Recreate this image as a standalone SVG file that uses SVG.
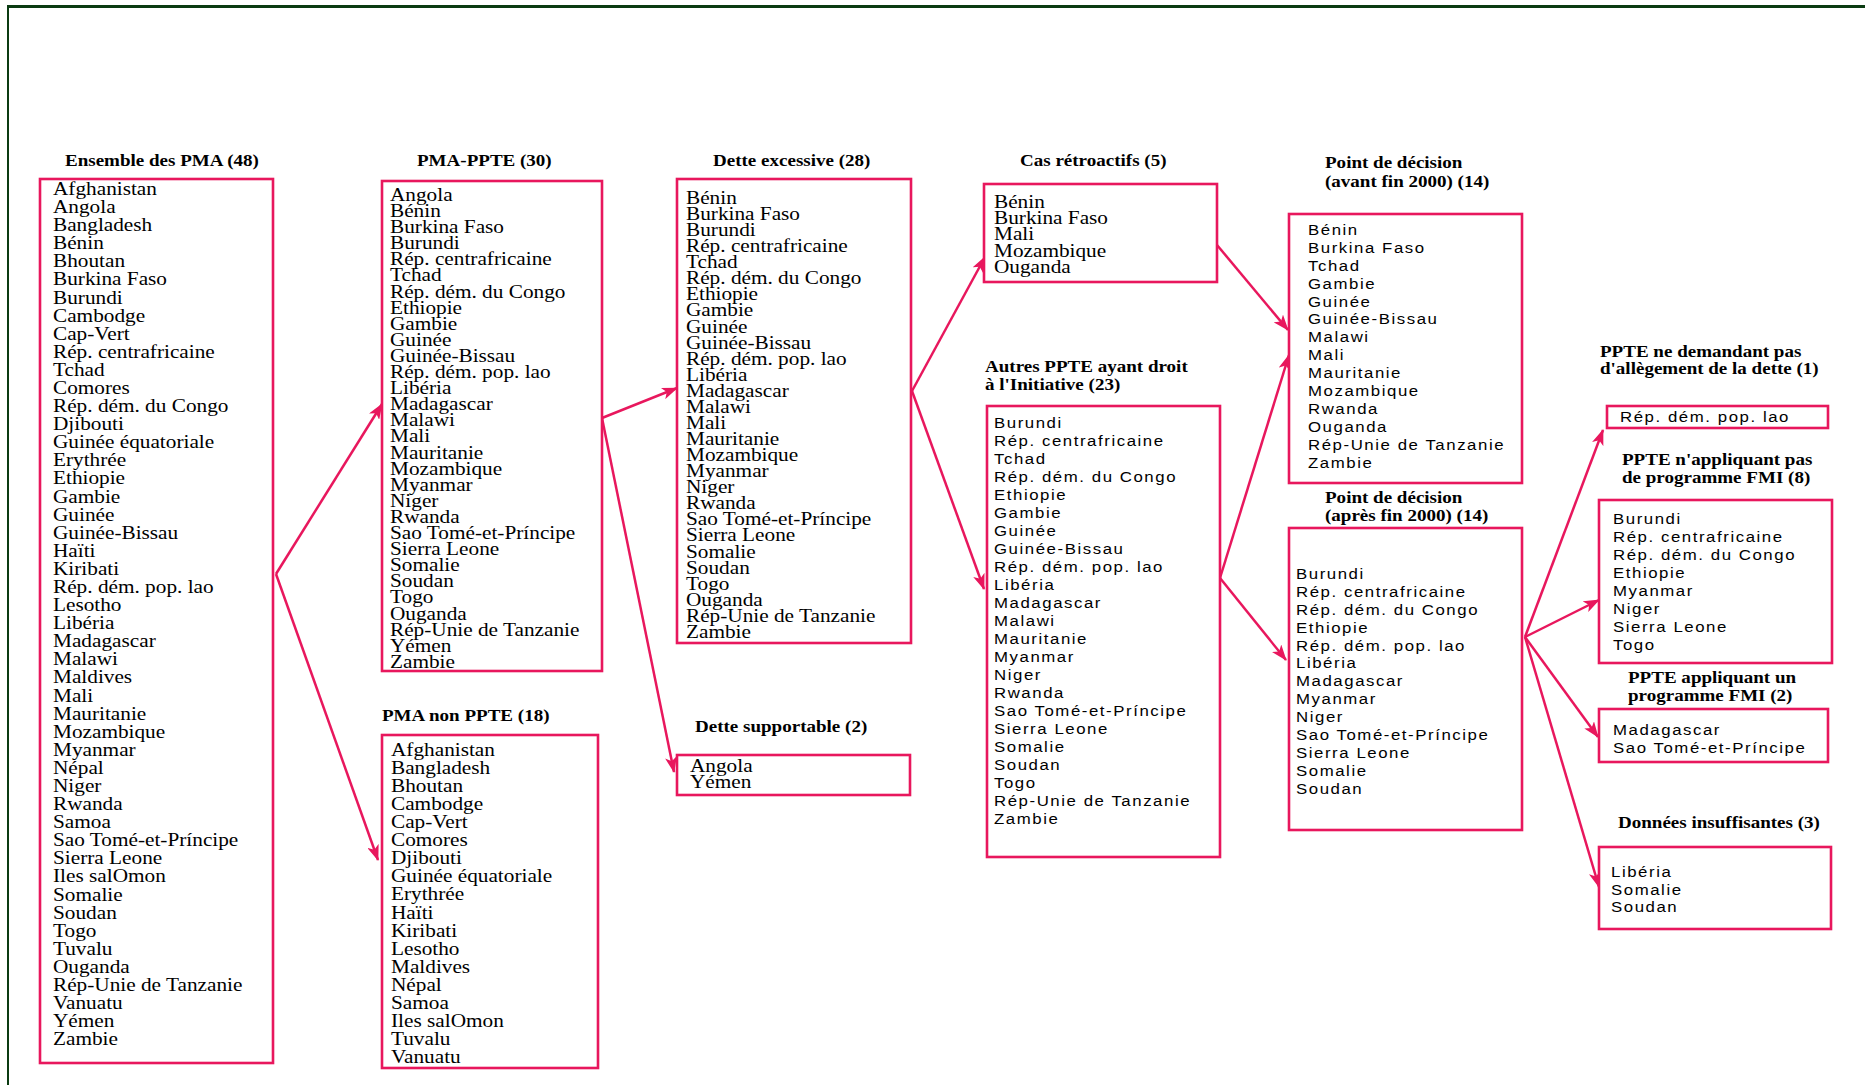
<svg xmlns="http://www.w3.org/2000/svg" width="1865" height="1085" viewBox="0 0 1865 1085">
<defs>
<style>
.box{fill:#fff;stroke:#E8175D;stroke-width:2.6}
.ttl{font-family:"Liberation Serif","Times New Roman",serif;font-weight:bold;font-size:17px;fill:#000}
.ser{font-family:"Liberation Serif","Times New Roman",serif;font-size:19px;fill:#000}
.san{font-family:"Liberation Sans",Arial,sans-serif;font-size:15px;letter-spacing:1.4px;fill:#000}
.con{stroke:#E8175D;stroke-width:2.5;fill:none;marker-end:url(#ah)}
</style>
<marker id="ah" markerUnits="userSpaceOnUse" markerWidth="16" markerHeight="12" refX="15" refY="6" orient="auto">
<path d="M0,0 L16,6 L0,12 L4,6 z" fill="#E8175D"/>
</marker>
</defs>
<rect x="0" y="0" width="1865" height="1085" fill="#fff"/>
<line x1="7" y1="6.5" x2="1865" y2="6.5" stroke="#0B3B12" stroke-width="3"/>
<line x1="8" y1="5" x2="8" y2="1085" stroke="#0B3B12" stroke-width="2"/>

<g id="connectors">
<line class="con" x1="276" y1="574" x2="382" y2="404"/>
<line class="con" x1="276" y1="574" x2="378" y2="860"/>
<line class="con" x1="602" y1="418" x2="677" y2="388"/>
<line class="con" x1="602" y1="418" x2="674" y2="772"/>
<line class="con" x1="912" y1="391" x2="985" y2="257"/>
<line class="con" x1="912" y1="391" x2="984" y2="589"/>
<line class="con" x1="1217" y1="245" x2="1288" y2="330"/>
<line class="con" x1="1220" y1="578" x2="1289" y2="355"/>
<line class="con" x1="1220" y1="578" x2="1286" y2="660"/>
<line class="con" x1="1525" y1="637" x2="1603" y2="430"/>
<line class="con" x1="1525" y1="637" x2="1599" y2="600"/>
<line class="con" x1="1525" y1="637" x2="1598" y2="737"/>
<line class="con" x1="1525" y1="637" x2="1599" y2="887"/>
</g>

<g id="n-ensemble-pma">
<rect class="box" x="40" y="179" width="233" height="884"/>
<text class="ttl" transform="translate(65,166) scale(1.12,1)">Ensemble des PMA (48)</text>
<text class="ser" transform="translate(53,195) scale(1.12,1)"><tspan x="0" y="0">Afghanistan</tspan><tspan x="0" dy="18.09">Angola</tspan><tspan x="0" dy="18.09">Bangladesh</tspan><tspan x="0" dy="18.09">Bénin</tspan><tspan x="0" dy="18.09">Bhoutan</tspan><tspan x="0" dy="18.09">Burkina Faso</tspan><tspan x="0" dy="18.09">Burundi</tspan><tspan x="0" dy="18.09">Cambodge</tspan><tspan x="0" dy="18.09">Cap-Vert</tspan><tspan x="0" dy="18.09">Rép. centrafricaine</tspan><tspan x="0" dy="18.09">Tchad</tspan><tspan x="0" dy="18.09">Comores</tspan><tspan x="0" dy="18.09">Rép. dém. du Congo</tspan><tspan x="0" dy="18.09">Djibouti</tspan><tspan x="0" dy="18.09">Guinée équatoriale</tspan><tspan x="0" dy="18.09">Erythrée</tspan><tspan x="0" dy="18.09">Ethiopie</tspan><tspan x="0" dy="18.09">Gambie</tspan><tspan x="0" dy="18.09">Guinée</tspan><tspan x="0" dy="18.09">Guinée-Bissau</tspan><tspan x="0" dy="18.09">Haïti</tspan><tspan x="0" dy="18.09">Kiribati</tspan><tspan x="0" dy="18.09">Rép. dém. pop. lao</tspan><tspan x="0" dy="18.09">Lesotho</tspan><tspan x="0" dy="18.09">Libéria</tspan><tspan x="0" dy="18.09">Madagascar</tspan><tspan x="0" dy="18.09">Malawi</tspan><tspan x="0" dy="18.09">Maldives</tspan><tspan x="0" dy="18.09">Mali</tspan><tspan x="0" dy="18.09">Mauritanie</tspan><tspan x="0" dy="18.09">Mozambique</tspan><tspan x="0" dy="18.09">Myanmar</tspan><tspan x="0" dy="18.09">Népal</tspan><tspan x="0" dy="18.09">Niger</tspan><tspan x="0" dy="18.09">Rwanda</tspan><tspan x="0" dy="18.09">Samoa</tspan><tspan x="0" dy="18.09">Sao Tomé-et-Príncipe</tspan><tspan x="0" dy="18.09">Sierra Leone</tspan><tspan x="0" dy="18.09">Iles salOmon</tspan><tspan x="0" dy="18.09">Somalie</tspan><tspan x="0" dy="18.09">Soudan</tspan><tspan x="0" dy="18.09">Togo</tspan><tspan x="0" dy="18.09">Tuvalu</tspan><tspan x="0" dy="18.09">Ouganda</tspan><tspan x="0" dy="18.09">Rép-Unie de Tanzanie</tspan><tspan x="0" dy="18.09">Vanuatu</tspan><tspan x="0" dy="18.09">Yémen</tspan><tspan x="0" dy="18.09">Zambie</tspan></text>
</g>

<g id="n-pma-ppte">
<rect class="box" x="382" y="181" width="220" height="490"/>
<text class="ttl" transform="translate(417,166) scale(1.12,1)">PMA-PPTE (30)</text>
<text class="ser" transform="translate(390,201) scale(1.12,1)"><tspan x="0" y="0">Angola</tspan><tspan x="0" dy="16.1">Bénin</tspan><tspan x="0" dy="16.1">Burkina Faso</tspan><tspan x="0" dy="16.1">Burundi</tspan><tspan x="0" dy="16.1">Rép. centrafricaine</tspan><tspan x="0" dy="16.1">Tchad</tspan><tspan x="0" dy="16.1">Rép. dém. du Congo</tspan><tspan x="0" dy="16.1">Ethiopie</tspan><tspan x="0" dy="16.1">Gambie</tspan><tspan x="0" dy="16.1">Guinée</tspan><tspan x="0" dy="16.1">Guinée-Bissau</tspan><tspan x="0" dy="16.1">Rép. dém. pop. lao</tspan><tspan x="0" dy="16.1">Libéria</tspan><tspan x="0" dy="16.1">Madagascar</tspan><tspan x="0" dy="16.1">Malawi</tspan><tspan x="0" dy="16.1">Mali</tspan><tspan x="0" dy="16.1">Mauritanie</tspan><tspan x="0" dy="16.1">Mozambique</tspan><tspan x="0" dy="16.1">Myanmar</tspan><tspan x="0" dy="16.1">Niger</tspan><tspan x="0" dy="16.1">Rwanda</tspan><tspan x="0" dy="16.1">Sao Tomé-et-Príncipe</tspan><tspan x="0" dy="16.1">Sierra Leone</tspan><tspan x="0" dy="16.1">Somalie</tspan><tspan x="0" dy="16.1">Soudan</tspan><tspan x="0" dy="16.1">Togo</tspan><tspan x="0" dy="16.1">Ouganda</tspan><tspan x="0" dy="16.1">Rép-Unie de Tanzanie</tspan><tspan x="0" dy="16.1">Yémen</tspan><tspan x="0" dy="16.1">Zambie</tspan></text>
</g>

<g id="n-pma-non-ppte">
<rect class="box" x="382" y="735" width="216" height="333"/>
<text class="ttl" transform="translate(382,721) scale(1.12,1)">PMA non PPTE (18)</text>
<text class="ser" transform="translate(391,756) scale(1.12,1)"><tspan x="0" y="0">Afghanistan</tspan><tspan x="0" dy="18.06">Bangladesh</tspan><tspan x="0" dy="18.06">Bhoutan</tspan><tspan x="0" dy="18.06">Cambodge</tspan><tspan x="0" dy="18.06">Cap-Vert</tspan><tspan x="0" dy="18.06">Comores</tspan><tspan x="0" dy="18.06">Djibouti</tspan><tspan x="0" dy="18.06">Guinée équatoriale</tspan><tspan x="0" dy="18.06">Erythrée</tspan><tspan x="0" dy="18.06">Haïti</tspan><tspan x="0" dy="18.06">Kiribati</tspan><tspan x="0" dy="18.06">Lesotho</tspan><tspan x="0" dy="18.06">Maldives</tspan><tspan x="0" dy="18.06">Népal</tspan><tspan x="0" dy="18.06">Samoa</tspan><tspan x="0" dy="18.06">Iles salOmon</tspan><tspan x="0" dy="18.06">Tuvalu</tspan><tspan x="0" dy="18.06">Vanuatu</tspan></text>
</g>

<g id="n-dette-excessive">
<rect class="box" x="677" y="179" width="234" height="464"/>
<text class="ttl" transform="translate(713,166) scale(1.12,1)">Dette excessive (28)</text>
<text class="ser" transform="translate(686,204) scale(1.12,1)"><tspan x="0" y="0">Bénin</tspan><tspan x="0" dy="16.07">Burkina Faso</tspan><tspan x="0" dy="16.07">Burundi</tspan><tspan x="0" dy="16.07">Rép. centrafricaine</tspan><tspan x="0" dy="16.07">Tchad</tspan><tspan x="0" dy="16.07">Rép. dém. du Congo</tspan><tspan x="0" dy="16.07">Ethiopie</tspan><tspan x="0" dy="16.07">Gambie</tspan><tspan x="0" dy="16.07">Guinée</tspan><tspan x="0" dy="16.07">Guinée-Bissau</tspan><tspan x="0" dy="16.07">Rép. dém. pop. lao</tspan><tspan x="0" dy="16.07">Libéria</tspan><tspan x="0" dy="16.07">Madagascar</tspan><tspan x="0" dy="16.07">Malawi</tspan><tspan x="0" dy="16.07">Mali</tspan><tspan x="0" dy="16.07">Mauritanie</tspan><tspan x="0" dy="16.07">Mozambique</tspan><tspan x="0" dy="16.07">Myanmar</tspan><tspan x="0" dy="16.07">Niger</tspan><tspan x="0" dy="16.07">Rwanda</tspan><tspan x="0" dy="16.07">Sao Tomé-et-Príncipe</tspan><tspan x="0" dy="16.07">Sierra Leone</tspan><tspan x="0" dy="16.07">Somalie</tspan><tspan x="0" dy="16.07">Soudan</tspan><tspan x="0" dy="16.07">Togo</tspan><tspan x="0" dy="16.07">Ouganda</tspan><tspan x="0" dy="16.07">Rép-Unie de Tanzanie</tspan><tspan x="0" dy="16.07">Zambie</tspan></text>
</g>

<g id="n-dette-supportable">
<rect class="box" x="677" y="755" width="233" height="40"/>
<text class="ttl" transform="translate(695,732) scale(1.12,1)">Dette supportable (2)</text>
<text class="ser" transform="translate(690,772) scale(1.12,1)"><tspan x="0" y="0">Angola</tspan><tspan x="0" dy="15.5">Yémen</tspan></text>
</g>

<g id="n-cas-retroactifs">
<rect class="box" x="984" y="184" width="233" height="98"/>
<text class="ttl" transform="translate(1020,166) scale(1.12,1)">Cas rétroactifs (5)</text>
<text class="ser" transform="translate(994,208) scale(1.12,1)"><tspan x="0" y="0">Bénin</tspan><tspan x="0" dy="16.25">Burkina Faso</tspan><tspan x="0" dy="16.25">Mali</tspan><tspan x="0" dy="16.25">Mozambique</tspan><tspan x="0" dy="16.25">Ouganda</tspan></text>
</g>

<g id="n-autres-ppte">
<rect class="box" x="987" y="406" width="233" height="451"/>
<text class="ttl" transform="translate(985,372) scale(1.12,1)"><tspan x="0" y="0">Autres PPTE ayant droit</tspan><tspan x="0" y="18">à l'Initiative (23)</tspan></text>
<text class="san" transform="translate(994,428) scale(1.12,1)"><tspan x="0" y="0">Burundi</tspan><tspan x="0" dy="18">Rép. centrafricaine</tspan><tspan x="0" dy="18">Tchad</tspan><tspan x="0" dy="18">Rép. dém. du Congo</tspan><tspan x="0" dy="18">Ethiopie</tspan><tspan x="0" dy="18">Gambie</tspan><tspan x="0" dy="18">Guinée</tspan><tspan x="0" dy="18">Guinée-Bissau</tspan><tspan x="0" dy="18">Rép. dém. pop. lao</tspan><tspan x="0" dy="18">Libéria</tspan><tspan x="0" dy="18">Madagascar</tspan><tspan x="0" dy="18">Malawi</tspan><tspan x="0" dy="18">Mauritanie</tspan><tspan x="0" dy="18">Myanmar</tspan><tspan x="0" dy="18">Niger</tspan><tspan x="0" dy="18">Rwanda</tspan><tspan x="0" dy="18">Sao Tomé-et-Príncipe</tspan><tspan x="0" dy="18">Sierra Leone</tspan><tspan x="0" dy="18">Somalie</tspan><tspan x="0" dy="18">Soudan</tspan><tspan x="0" dy="18">Togo</tspan><tspan x="0" dy="18">Rép-Unie de Tanzanie</tspan><tspan x="0" dy="18">Zambie</tspan></text>
</g>

<g id="n-decision-avant">
<rect class="box" x="1289" y="214" width="233" height="269"/>
<text class="ttl" transform="translate(1325,168) scale(1.12,1)"><tspan x="0" y="0">Point de décision</tspan><tspan x="0" y="19">(avant fin 2000) (14)</tspan></text>
<text class="san" transform="translate(1308,235) scale(1.12,1)"><tspan x="0" y="0">Bénin</tspan><tspan x="0" dy="17.9">Burkina Faso</tspan><tspan x="0" dy="17.9">Tchad</tspan><tspan x="0" dy="17.9">Gambie</tspan><tspan x="0" dy="17.9">Guinée</tspan><tspan x="0" dy="17.9">Guinée-Bissau</tspan><tspan x="0" dy="17.9">Malawi</tspan><tspan x="0" dy="17.9">Mali</tspan><tspan x="0" dy="17.9">Mauritanie</tspan><tspan x="0" dy="17.9">Mozambique</tspan><tspan x="0" dy="17.9">Rwanda</tspan><tspan x="0" dy="17.9">Ouganda</tspan><tspan x="0" dy="17.9">Rép-Unie de Tanzanie</tspan><tspan x="0" dy="17.9">Zambie</tspan></text>
</g>

<g id="n-decision-apres">
<rect class="box" x="1289" y="528" width="233" height="302"/>
<text class="ttl" transform="translate(1325,503) scale(1.12,1)"><tspan x="0" y="0">Point de décision</tspan><tspan x="0" y="18">(après fin 2000) (14)</tspan></text>
<text class="san" transform="translate(1296,579) scale(1.12,1)"><tspan x="0" y="0">Burundi</tspan><tspan x="0" dy="17.9">Rép. centrafricaine</tspan><tspan x="0" dy="17.9">Rép. dém. du Congo</tspan><tspan x="0" dy="17.9">Ethiopie</tspan><tspan x="0" dy="17.9">Rép. dém. pop. lao</tspan><tspan x="0" dy="17.9">Libéria</tspan><tspan x="0" dy="17.9">Madagascar</tspan><tspan x="0" dy="17.9">Myanmar</tspan><tspan x="0" dy="17.9">Niger</tspan><tspan x="0" dy="17.9">Sao Tomé-et-Príncipe</tspan><tspan x="0" dy="17.9">Sierra Leone</tspan><tspan x="0" dy="17.9">Somalie</tspan><tspan x="0" dy="17.9">Soudan</tspan></text>
</g>

<g id="n-ne-demandant-pas">
<rect class="box" x="1607" y="406" width="221" height="22"/>
<text class="ttl" transform="translate(1600,357) scale(1.12,1)"><tspan x="0" y="0">PPTE ne demandant pas</tspan><tspan x="0" y="17.5">d'allègement de la dette (1)</tspan></text>
<text class="san" transform="translate(1620,422) scale(1.12,1)">Rép. dém. pop. lao</text>
</g>

<g id="n-sans-programme">
<rect class="box" x="1599" y="500" width="233" height="163"/>
<text class="ttl" transform="translate(1622,465) scale(1.12,1)"><tspan x="0" y="0">PPTE n'appliquant pas</tspan><tspan x="0" y="18">de programme FMI (8)</tspan></text>
<text class="san" transform="translate(1613,524) scale(1.12,1)"><tspan x="0" y="0">Burundi</tspan><tspan x="0" dy="18">Rép. centrafricaine</tspan><tspan x="0" dy="18">Rép. dém. du Congo</tspan><tspan x="0" dy="18">Ethiopie</tspan><tspan x="0" dy="18">Myanmar</tspan><tspan x="0" dy="18">Niger</tspan><tspan x="0" dy="18">Sierra Leone</tspan><tspan x="0" dy="18">Togo</tspan></text>
</g>

<g id="n-avec-programme">
<rect class="box" x="1599" y="709" width="229" height="53"/>
<text class="ttl" transform="translate(1628,683) scale(1.12,1)"><tspan x="0" y="0">PPTE appliquant un</tspan><tspan x="0" y="18">programme FMI (2)</tspan></text>
<text class="san" transform="translate(1613,735) scale(1.12,1)"><tspan x="0" y="0">Madagascar</tspan><tspan x="0" dy="18">Sao Tomé-et-Príncipe</tspan></text>
</g>

<g id="n-donnees-insuffisantes">
<rect class="box" x="1599" y="847" width="232" height="82"/>
<text class="ttl" transform="translate(1618,828) scale(1.12,1)">Données insuffisantes (3)</text>
<text class="san" transform="translate(1611,877) scale(1.12,1)"><tspan x="0" y="0">Libéria</tspan><tspan x="0" dy="17.7">Somalie</tspan><tspan x="0" dy="17.7">Soudan</tspan></text>
</g>
</svg>
